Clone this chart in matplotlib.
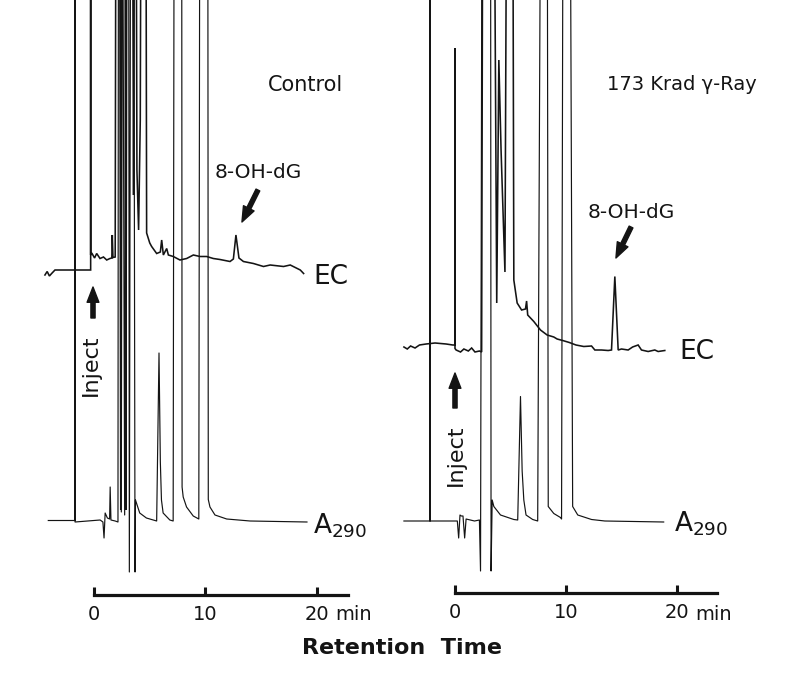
import matplotlib
matplotlib.use("Agg")
import matplotlib.pyplot as plt

plt.rcParams['font.family'] = ['DejaVu Sans']

OFF = 150  # off-scale pen excursion (clipped at chart top)

# ---------------- Control panel ----------------
ctrl_ec_t = [-4.4, -4.2, -4.0, -3.8, -3.5, -0.3, -0.3, -0.3, -0.2, 0.05, 0.24, 0.54, 0.85, 1.14, 1.43,
             1.6, 1.64, 1.7, 1.9, 2.02, 2.25, 2.4, 2.55, 2.75, 2.85, 3.0, 3.35, 3.55, 3.7, 3.85, 4.0,
             4.15, 4.3, 4.6, 4.72, 5.0, 5.17, 5.62, 5.95, 6.07, 6.22, 6.52, 6.67, 7.11, 7.71, 8.31,
             8.91, 9.51, 10.1, 10.7, 11.3, 12.2, 12.5, 12.73, 13.0, 13.4, 14.3, 15.2, 15.8, 17.0,
             17.6, 18.5, 18.8]
ctrl_ec_v = [-1, -0.3, -1.2, -0.7, 0, 0, OFF, 3, 3.4, 2.4, 3.3, 2.3, 2.6, 2.0, 2.3,
             2.4, 7, 2.5, 2.6, OFF, OFF, -48, OFF, OFF, -48, OFF, OFF, 15, OFF, 20, 8,
             30, OFF, OFF, 7.4, 5.4, 4.7, 3.3, 3.6, 6, 3, 4.3, 3, 2.7, 2, 2.3,
             3, 2.7, 2.7, 2.3, 2.1, 1.7, 2.2, 7, 2.4, 1.7, 1.3, 0.7, 1, 0.7,
             1, 0, -0.7]

ctrl_a_t = [-4.1, -1.7, -1.7, -1.7, 0.55, 0.8, 0.9, 1.0, 1.2, 1.4, 1.45, 1.52, 1.9, 2.15, 2.2,
            2.35, 2.45, 2.55, 2.75, 2.9, 3.1, 3.17, 3.3, 3.55, 3.68, 3.72, 4.1, 4.7, 5.62, 5.83,
            5.95, 6.05, 6.2, 6.8, 7.1, 7.2, 7.86, 7.9, 8.0, 8.3, 8.9, 9.4, 9.5, 10.2, 10.25,
            10.4, 10.85, 11.9, 14.0, 19.1]
ctrl_a_v = [0.3, 0.3, OFF, 0, 0.4, 0, -3.2, 1.8, 0.8, 0.6, 7, 0.4, 0.2, 0, OFF,
            OFF, 2, OFF, 1.4, OFF, OFF, -10, OFF, OFF, -10, 4.4, 1.8, 0.8, 0.2, 33.8,
            12, 4.4, 1.8, 0.4, 0.2, OFF, OFF, 7, 5, 3, 1.2, 0.6, OFF, OFF, 4.5,
            3.0, 1.4, 0.6, 0.2, 0]

# ---------------- 173 Krad gamma-ray panel ----------------
ray_ec_t = [-4.6, -4.3, -4.0, -3.6, -3.2, -2.6, -1.8, -0.8, -0.2, 0.0, 0.0, 0.0, 0.1, 0.5, 0.8,
            1.2, 1.5, 1.8, 2.2, 2.4, 2.55, 3.4, 3.76, 3.95, 4.15, 4.5, 4.75, 5.15, 5.3, 5.6,
            6.0, 6.35, 6.45, 6.55, 7.1, 7.7, 8.3, 8.9, 9.2, 9.7, 10.3, 10.9, 11.6, 12.3, 12.6,
            13.2, 13.8, 14.1, 14.4, 14.7, 15.0, 15.6, 16.0, 16.5, 16.8, 17.4, 18.0, 18.3, 18.9]
ray_ec_v = [0.6, 0.2, 0.8, 0.4, 1.0, 1.2, 1.4, 1.2, 1.0, 1.0, 60.4, 0.3, 0, -0.4, 0.2,
            -0.2, 0.4, -0.4, -0.2, -0.4, OFF, OFF, 9.4, 58, 40, 15.6, OFF, OFF, 14, 9.4,
            8, 8.2, 9.8, 7, 5.7, 4, 3, 2.6, 2.2, 1.9, 1.5, 1.0, 0.7, 0.8, 0,
            0, -0.1, 0, 14.7, 0, 0.2, 0, 0.6, 1.0, 0, -0.3, 0, -0.3, -0.1]

ray_a_t = [-4.6, -2.25, -2.25, -2.25, 0.21, 0.33, 0.45, 0.57, 0.72, 0.87, 1.0, 1.76, 2.2, 2.3,
           2.45, 3.2, 3.25, 3.35, 3.5, 4.1, 5.3, 5.65, 5.9, 6.05, 6.2, 6.4, 7.0, 7.45, 7.75,
           8.3, 8.4, 8.9, 9.5, 9.6, 9.75, 10.35, 10.6, 11.06, 12.3, 13.5, 18.8]
ray_a_v = [0, 0, OFF, 0, 0, -3.4, 1.2, 1.0, 1.0, -3.4, 0.4, 0, 0.2, -10,
           OFF, OFF, -10, 4.2, 2.9, 1.2, 0.3, 0.2, 24.9, 10, 4.2, 1.2, 0.3, 0, OFF,
           OFF, 2.9, 1.5, 0.7, 0.4, OFF, OFF, 2.9, 1.2, 0.3, 0, -0.2]

tick_vals = [0, 10, 20]
tick_labels = ["0", "10", "20"]

panel_titles = ["Control", "173 Krad γ-Ray"]
peak_name = "8-OH-dG"
ctrl_peak = (12.73, 7)
ray_peak = (14.4, 14.7)

INK = "#141414"

fig = plt.figure(figsize=(7.88, 6.76), dpi=100)
fig.patch.set_facecolor("white")

axL = fig.add_axes([40 / 788, (676 - 595) / 676, (394 - 40) / 788, 595 / 676])
axR = fig.add_axes([394 / 788, (676 - 593) / 676, (788 - 394) / 788, 593 / 676])

axL.set_xlim(-4.843, 26.906)
axL.set_ylim(-14.6, 104.4)
axR.set_xlim(-5.495, 30.0)
axR.set_ylim(-14.4, 104.2)

ec_offset = {axL: 50.4, axR: 34.2}

panels = [
    (axL, ctrl_ec_t, ctrl_ec_v, ctrl_a_t, ctrl_a_v, 22.8),
    (axR, ray_ec_t, ray_ec_v, ray_a_t, ray_a_v, 23.6),
]

for ax, et, ev, at, av, axis_end in panels:
    off = ec_offset[ax]
    ax.plot(et, [v + off for v in ev], color=INK, lw=1.15, solid_joinstyle='miter')
    ax.plot(at, av, color=INK, lw=0.85)
    for s in ["top", "left", "right"]:
        ax.spines[s].set_visible(False)
    ax.spines["bottom"].set_bounds(0, axis_end)
    ax.spines["bottom"].set_linewidth(2.3)
    ax.spines["bottom"].set_color(INK)
    ax.set_yticks([])
    ax.set_xticks(tick_vals)
    ax.set_xticklabels(tick_labels)
    ax.tick_params(axis="x", direction="in", length=6, width=2.2, color=INK,
                   labelsize=14, pad=7, labelcolor=INK)
    ax.patch.set_alpha(0)
    ax.text(21.6, -18.6, "min", fontsize=14, ha="left", va="center", color=INK, clip_on=False)

arrow_kw = dict(arrowstyle="simple,head_width=0.85,head_length=1.1,tail_width=0.3",
                color=INK, mutation_scale=10, shrinkA=0, shrinkB=0)

# Titles
axL.text(15.6, 87.4, panel_titles[0], fontsize=15, ha="left", va="center", color=INK)
axR.text(13.7, 87.2, panel_titles[1], fontsize=14, ha="left", va="center", color=INK)

# 8-OH-dG labels with arrows
axL.annotate("", xy=(13.27, 60.0), xytext=(14.7, 66.4), arrowprops=arrow_kw)
axL.text(14.7, 70.0, peak_name, fontsize=14.5, ha="center", va="center", color=INK)
axR.annotate("", xy=(14.5, 52.6), xytext=(15.86, 58.8), arrowprops=arrow_kw)
axR.text(15.86, 61.6, peak_name, fontsize=14.5, ha="center", va="center", color=INK)

# Trace labels
axL.text(19.64, 49.0, "EC", fontsize=19, ha="left", va="center", color=INK)
axR.text(20.2, 33.8, "EC", fontsize=19, ha="left", va="center", color=INK)
axL.text(19.64, -2.2, r"A$_{\mathregular{290}}$", fontsize=19, ha="left", va="baseline", color=INK)
axR.text(19.7, -2.0, r"A$_{\mathregular{290}}$", fontsize=19, ha="left", va="baseline", color=INK)

# Inject markers
axL.annotate("", xy=(-0.09, 47.0), xytext=(-0.09, 40.8), arrowprops=arrow_kw)
axL.text(-0.27, 31.4, "Inject", fontsize=16, rotation=90, ha="center", va="center", color=INK)
axR.annotate("", xy=(0.0, 29.6), xytext=(0.0, 22.6), arrowprops=arrow_kw)
axR.text(0.05, 13.2, "Inject", fontsize=16, rotation=90, ha="center", va="center", color=INK)

fig.text(402 / 788, 1 - 648 / 676, "Retention  Time", fontsize=16, fontweight="bold",
         ha="center", va="center", color=INK)

fig.savefig("out.png", dpi=100, facecolor="white")
